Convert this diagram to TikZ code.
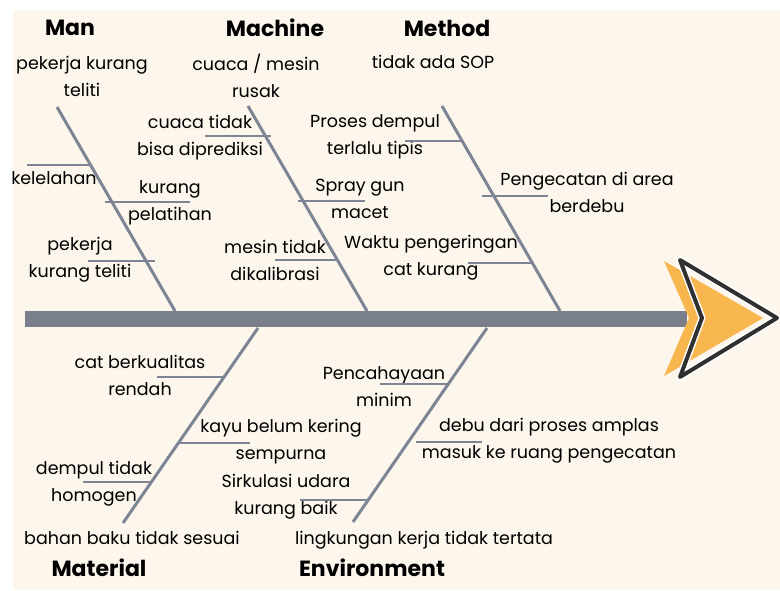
\documentclass[tikz,border=0pt]{standalone}
\usepackage{fontspec}
\setmainfont{Poppins}
\definecolor{paper}{HTML}{FCF6EC}
\definecolor{bone}{HTML}{7D8494}
\definecolor{spinegray}{HTML}{79808C}
\definecolor{arroworange}{HTML}{F8B64F}
\definecolor{arrowdark}{HTML}{303030}
\tikzset{
  cause/.style={font=\fontsize{17.5}{27}\selectfont, text=black, inner sep=0pt, align=center},
  category/.style={font=\fontsize{22}{24}\selectfont\bfseries, inner sep=0pt},
  rib/.style={draw=bone, line width=3pt},
  twig/.style={draw=bone, line width=2.6pt},
}
\begin{document}
\begin{tikzpicture}[x=1pt,y=-1pt]
      \useasboundingbox (0,0) rectangle (780,591);
      \fill[paper] (13,10) rectangle (780,590);
      % spine and head
      \coordinate (tail) at (25,319);
      \coordinate (head) at (687,319);
      \draw[spinegray, line width=16pt] (tail) -- (head);
      \fill[arroworange] (664,261) -- (763,318) -- (664,376) -- (689,318) -- cycle;
      \draw[white, line width=7pt, line join=round] (680,260) -- (777,318) -- (680,377) -- (702,318) -- cycle;
      \draw[arrowdark, line width=4pt, line join=round] (680,260) -- (777,318) -- (680,377) -- (702,318) -- cycle;
      % categories
      \draw
        (70,28) node[category] (man){Man}
        (275,28) node[category] (machine){Machine}
        (447,28) node[category] (method){Method}
        (99,568) node[category] (material){Material}
        (372,568) node[category] (environment){Environment};
      % causes
      \draw
        (82,76) node[cause] (manA){pekerja kurang\\teliti}
        (54,178) node[cause] (manB){kelelahan}
        (170,203) node[cause] (manC){kurang\\pelatihan}
        (80,260) node[cause] (manD){pekerja\\kurang teliti}
        (256,76) node[cause] (macA){cuaca / mesin\\rusak}
        (200,138) node[cause] (macB){cuaca tidak\\bisa diprediksi}
        (360,199) node[cause] (macC){Spray gun\\macet}
        (275,260) node[cause] (macD){mesin tidak\\dikalibrasi}
        (433,62) node[cause] (metA){tidak ada SOP}
        (375,137) node[cause] (metB){Proses dempul\\terlalu tipis}
        (587,192) node[cause] (metC){Pengecatan di area\\berdebu}
        (431,258) node[cause] (metD){Waktu pengeringan\\cat kurang}
        (140,375) node[cause] (matA){cat berkualitas\\rendah}
        (281,442) node[cause] (matB){kayu belum kering\\sempurna}
        (94,484) node[cause] (matC){dempul tidak\\homogen}
        (132,538) node[cause] (matD){bahan baku tidak sesuai}
        (384,387) node[cause] (envA){Pencahayaan\\minim}
        (549,441) node[cause] (envB){debu dari proses amplas\\masuk ke ruang pengecatan}
        (286,497) node[cause] (envC){Sirkulasi udara\\kurang baik}
        (424,540) node[cause] (envD){lingkungan kerja tidak tertata};
      % bone ends
      \coordinate (manTop) at (57,107);
      \coordinate (manFoot) at (175,311);
      \coordinate (macTop) at (248,106);
      \coordinate (macFoot) at (367,311);
      \coordinate (metTop) at (442,106);
      \coordinate (metFoot) at (560,311);
      \coordinate (matFoot) at (258,328);
      \coordinate (matEnd) at (123,523);
      \coordinate (envFoot) at (487,328);
      \coordinate (envEnd) at (353,522);
      \begin{scope}[rib]
        \draw (manTop) to (manFoot);
        \draw (macTop) to (macFoot);
        \draw (metTop) to (metFoot);
        \draw (matFoot) to (matEnd);
        \draw (envFoot) to (envEnd);
      \end{scope}
      % twigs
      \begin{scope}[twig]
        \draw (27,165) coordinate (manB1) -- (92,165) coordinate (manB2);
        \draw (105,202) coordinate (manC1) -- (190,202) coordinate (manC2);
        \draw (88,261) coordinate (manD1) -- (155,261) coordinate (manD2);
        \draw (205,136) coordinate (macB1) -- (271,136) coordinate (macB2);
        \draw (298,201) coordinate (macC1) -- (365,201) coordinate (macC2);
        \draw (275,260) coordinate (macD1) -- (337,260) coordinate (macD2);
        \draw (405,141) coordinate (metB1) -- (462,141) coordinate (metB2);
        \draw (482,196) coordinate (metC1) -- (548,196) coordinate (metC2);
        \draw (468,263) coordinate (metD1) -- (532,263) coordinate (metD2);
        \draw (157,377) coordinate (matA1) -- (224,377) coordinate (matA2);
        \draw (178,443) coordinate (matB1) -- (250,443) coordinate (matB2);
        \draw (83,482) coordinate (matC1) -- (151,482) coordinate (matC2);
        \draw (380,384) coordinate (envA1) -- (448,384) coordinate (envA2);
        \draw (416,442) coordinate (envB1) -- (482,442) coordinate (envB2);
        \draw (300,500) coordinate (envC1) -- (368,500) coordinate (envC2);
      \end{scope}
    \end{tikzpicture}
\end{document}
